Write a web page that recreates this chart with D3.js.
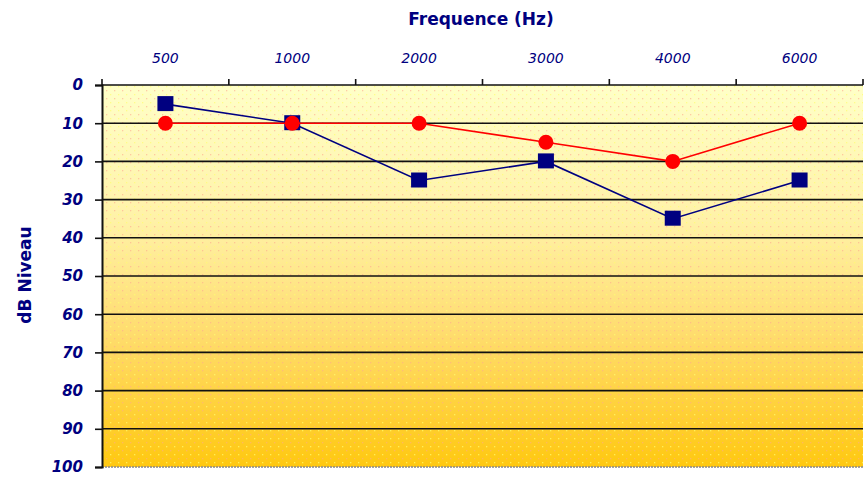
<!DOCTYPE html>
<html><head><meta charset="utf-8">
<script src="https://d3js.org/d3.v7.min.js"></script>
<style>body{margin:0;background:#fff}svg{display:block}</style>
</head><body>
<script>
const frequencies = ["500","1000","2000","3000","4000","6000"];
const seriesBlue = [5, 10, 25, 20, 35, 25];
const seriesRed = [10, 10, 10, 15, 20, 10];
const yTicks = [0,10,20,30,40,50,60,70,80,90,100];

const W = 865, H = 483;
const m = {left:102, right:863, top:85, bottom:467};
const svg = d3.select("body").append("svg").attr("width", W).attr("height", H);

const x = d3.scaleBand().domain(frequencies).range([m.left, m.right]);
const y = d3.scaleLinear().domain([0,100]).range([m.top, m.bottom]);

const defs = svg.append("defs");
const grad = defs.append("linearGradient").attr("id","bg").attr("x1",0).attr("y1",0).attr("x2",0).attr("y2",1);
grad.append("stop").attr("offset","0%").attr("stop-color","#FFFFC8");
grad.append("stop").attr("offset","35%").attr("stop-color","#FFF2A8");
grad.append("stop").attr("offset","65%").attr("stop-color","#FFDC6E");
grad.append("stop").attr("offset","100%").attr("stop-color","#FFC810");
const pat = defs.append("pattern").attr("id","dots").attr("width",8).attr("height",8).attr("patternUnits","userSpaceOnUse");
pat.append("rect").attr("x",2).attr("y",2).attr("width",1.3).attr("height",1.3).attr("fill","#FFA890").attr("opacity",0.6);
pat.append("rect").attr("x",6).attr("y",6).attr("width",1.3).attr("height",1.3).attr("fill","#FFFF70").attr("opacity",0.7);

svg.append("rect").attr("x",m.left).attr("y",m.top).attr("width",m.right-m.left).attr("height",m.bottom-m.top).attr("fill","url(#bg)");
svg.append("rect").attr("x",m.left).attr("y",m.top).attr("width",m.right-m.left).attr("height",m.bottom-m.top).attr("fill","url(#dots)");

// gridlines
svg.append("g").selectAll("line").data(yTicks.filter(d=>d>0 && d<100)).join("line")
  .attr("x1",m.left).attr("x2",m.right).attr("y1",d=>y(d)).attr("y2",d=>y(d))
  .attr("stroke","#111").attr("stroke-width",1.6);
// bottom border
svg.append("line").attr("x1",m.left).attr("x2",m.right).attr("y1",m.bottom).attr("y2",m.bottom)
  .attr("stroke","#888").attr("stroke-width",1.5).attr("stroke-dasharray","2,1");

// top axis
const xAxis = d3.axisTop(x).tickSize(0).tickPadding(0);
const gx = svg.append("g").attr("transform",`translate(0,${m.top})`).call(xAxis);
gx.select(".domain").remove();
gx.selectAll("text").attr("y",-22)
  .attr("font-family","Verdana, DejaVu Sans, sans-serif").attr("font-style","italic")
  .attr("font-size",14).attr("fill","#000080");
svg.append("line").attr("x1",m.left).attr("x2",m.right).attr("y1",m.top).attr("y2",m.top).attr("stroke","#111").attr("stroke-width",1.6);
const bounds = frequencies.map(f=>x(f)).concat([m.right]);
svg.append("g").selectAll("line").data(bounds).join("line")
  .attr("x1",d=>d).attr("x2",d=>d).attr("y1",m.top-6).attr("y2",m.top)
  .attr("stroke","#111").attr("stroke-width",1.6);

// left axis
const yAxis = d3.axisLeft(y).tickValues(yTicks).tickSize(7).tickPadding(12);
const gy = svg.append("g").attr("transform",`translate(${m.left},0)`).call(yAxis);
gy.select(".domain").attr("stroke","#111").attr("stroke-width",2);
gy.selectAll(".tick line").attr("stroke","#111").attr("stroke-width",1.6);
gy.selectAll("text").attr("font-family","Verdana, DejaVu Sans, sans-serif").attr("font-style","italic")
  .attr("font-weight","bold").attr("font-size",15).attr("fill","#000080");

// titles
svg.append("text").attr("x",481).attr("y",25).attr("text-anchor","middle")
  .attr("font-family","Verdana, DejaVu Sans, sans-serif").attr("font-weight","bold").attr("font-size",17)
  .attr("fill","#000080").text("Frequence (Hz)");
svg.append("text").attr("transform","translate(31,275) rotate(-90)").attr("text-anchor","middle")
  .attr("font-family","Verdana, DejaVu Sans, sans-serif").attr("font-weight","bold").attr("font-size",17)
  .attr("fill","#000080").text("dB Niveau");

const cx = f => x(f) + x.bandwidth()/2;
const line = d3.line().x(d=>cx(d.f)).y(d=>y(d.v));
const blue = frequencies.map((f,i)=>({f, v:seriesBlue[i]}));
const red = frequencies.map((f,i)=>({f, v:seriesRed[i]}));

svg.append("path").datum(blue).attr("d",line).attr("fill","none").attr("stroke","#000080").attr("stroke-width",1.6);
svg.append("g").selectAll("rect").data(blue).join("rect")
  .attr("x",d=>cx(d.f)-8).attr("y",d=>y(d.v)-8).attr("width",16).attr("height",15).attr("fill","#000080");
svg.append("path").datum(red).attr("d",line).attr("fill","none").attr("stroke","#FF0000").attr("stroke-width",1.6);
svg.append("g").selectAll("circle").data(red).join("circle")
  .attr("cx",d=>cx(d.f)).attr("cy",d=>y(d.v)).attr("r",7.5).attr("fill","#FF0000");
</script>
</body></html>
